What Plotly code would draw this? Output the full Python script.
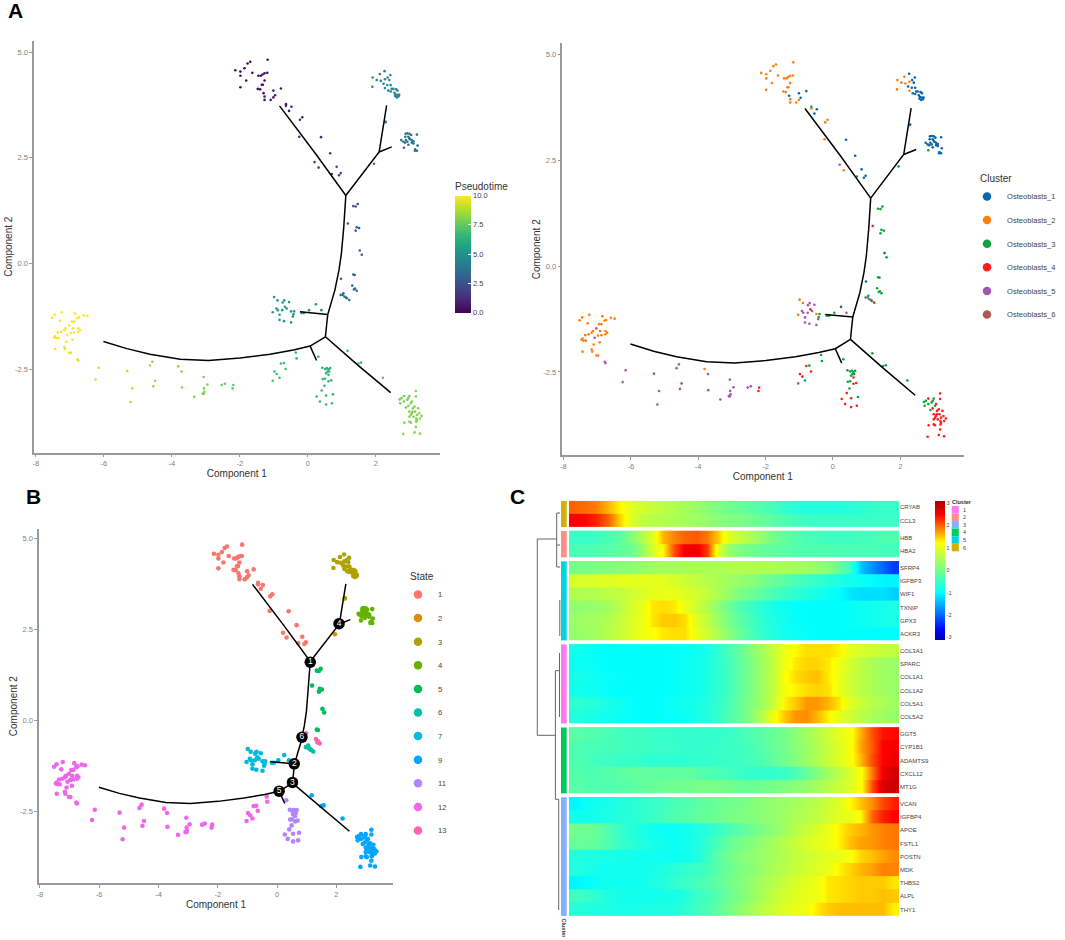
import plotly.graph_objects as go

W, H = 1065, 940

# ---------- cell tables: (component 1, component 2, cluster, pseudotime) ----------
state_1 = [(-2.13,4.57,2,0.3),(-1.98,4.54,2,0.3),(-1.98,4.44,2,0.3),(-1.86,4.62,2,0.2),(-1.77,4.73,2,0.2),(-1.69,4.77,2,0.2),
 (-1.63,4.51,2,0.3),(-1.81,4.33,2,0.3),(-1.98,4.17,2,0.3),(-1.18,4.82,2,0.4),(-1.45,4.44,2,0.4),(-1.38,4.44,2,0.4),(-1.33,4.47,2,0.4),
 (-1.27,4.50,2,0.4),(-1.19,4.51,2,0.4),(-1.27,4.33,2,0.5),(-1.35,4.23,2,0.5),(-1.32,4.23,2,0.5),(-1.47,4.13,2,0.5),(-1.40,4.12,2,0.5),
 (-1.30,4.03,1,0.6),(-1.01,4.09,1,0.6),(-0.79,4.14,1,0.6),(-1.27,3.95,2,0.6),(-1.27,3.87,2,0.6),(-1.09,3.87,2,0.7),(-1.01,3.93,2,0.7),
 (-0.96,3.98,1,0.7),(-0.64,3.77,3,0.9),(-0.64,3.73,2,0.9),(-0.48,3.71,1,0.9),(-0.55,3.61,1,0.9),(-0.16,3.46,2,1.2),(-0.23,3.40,2,1.2),
 (-0.25,3.00,2,1.4),(0.39,2.99,1,1.6),(0.66,2.61,1,1.9),(0.20,2.40,5,1.9),(0.32,2.27,2,2.0),(0.85,2.29,1,2.2),(0.97,2.14,1,2.3),
 (0.92,2.09,1,2.3),(0.71,2.12,3,2.2)]
state_2 = [(1.95,2.36,3,4.2)]
state_3 = [(1.91,4.40,2,4.6),(1.90,4.18,2,4.6),(2.03,4.34,2,4.6),(2.12,4.48,2,4.6),(2.26,4.55,1,4.7),(2.43,4.46,1,4.7),(2.35,4.40,1,4.7),
 (2.27,4.36,2,4.7),(2.15,4.32,2,4.6),(2.40,4.34,1,4.7),(2.23,4.25,1,4.6),(2.34,4.22,1,4.7),(2.44,4.22,1,4.7),(2.27,4.15,2,4.6),
 (2.37,4.09,1,4.6),(2.47,4.13,1,4.6),(2.52,4.13,1,4.6),(2.60,4.12,1,4.6),(2.44,4.07,1,4.6),(2.55,4.04,1,4.6),(2.64,4.09,1,4.6),
 (2.58,4.00,1,4.5),(2.64,3.99,1,4.5),(2.69,3.99,1,4.5),(2.57,3.96,1,4.5),(2.62,3.93,1,4.5),(2.67,3.95,1,4.5),(2.29,3.35,1,4.4),(2.28,3.34,1,4.4)]
state_4 = [(2.75,2.92,1,3.8),(2.81,2.88,1,3.8),(2.88,3.07,1,3.8),(2.93,3.08,1,3.8),(2.99,3.07,1,3.8),(2.87,3.00,1,3.8),(2.96,3.00,1,3.8),
 (3.04,3.04,1,3.8),(3.21,3.05,1,3.8),(2.86,2.86,1,3.8),(2.96,2.81,1,3.8),(2.83,2.74,3,3.7),(3.06,2.92,1,3.8),(3.11,2.89,1,3.8),
 (3.01,2.94,1,3.8),(2.93,2.88,1,3.8),(3.11,2.84,1,3.8),(3.06,2.86,1,3.8),(3.23,2.79,1,3.9),(3.16,2.70,1,3.9),(3.21,2.67,1,3.9),
 (3.15,2.67,1,3.9),(2.89,2.92,1,3.8),(2.99,2.96,1,3.8)]
state_5 = [(1.34,1.36,3,2.6),(1.41,1.35,3,2.6),(1.47,1.41,3,2.6),(1.41,0.78,3,2.8),(1.44,0.86,3,2.8),(1.51,0.84,3,2.8),(1.53,0.31,1,3.0),
 (1.59,0.21,3,3.0),(1.34,-0.26,3,3.2),(1.38,-0.27,3,3.2),(1.18,0.95,4,2.7)]
state_6 = [(0.97,-0.74,3,3.7),(1.05,-0.70,3,3.7),(1.08,-0.78,5,3.7),(1.03,-0.74,5,3.7),(1.15,-0.82,3,3.8),(1.22,-0.86,4,3.8),(1.13,-0.80,3,3.8)]
state_7 = [(-0.99,-0.79,2,5.5),(-0.89,-0.87,2,5.5),(-0.92,-1.06,5,5.5),(-1.03,-1.15,2,5.5),(-0.88,-1.10,5,5.5),(-0.83,-1.21,5,5.5),
 (-0.83,-1.33,5,5.4),(-0.70,-1.36,5,5.4),(-0.49,-1.39,5,5.4),(-0.74,-0.92,5,5.4),(-0.69,-0.87,5,5.4),(-0.55,-0.91,5,5.4),(-0.67,-1.02,4,5.4),
 (-0.62,-1.06,5,5.4),(-0.49,-1.13,2,5.3),(-0.40,-1.13,3,5.2),(-0.42,-1.20,3,5.2),(-0.44,-1.25,5,5.2),(-0.75,-1.10,5,5.4),(-0.18,-1.17,3,5.0),
 (-0.11,-1.17,3,5.0),(0.04,-1.10,3,4.9),(0.24,-0.96,1,4.8),(0.40,-1.10,5,4.7)]
state_9 = [(1.17,-2.06,3,6.6),(1.49,-2.36,3,6.9),(1.57,-2.34,3,6.9),(2.21,-2.70,3,7.4),(2.70,-3.21,3,7.9),(2.76,-3.18,3,7.9),(2.83,-3.13,4,7.9),
 (2.99,-3.13,3,7.9),(3.18,-3.01,4,8.0),(3.18,-3.14,4,8.0),(2.72,-3.30,3,8.0),(2.83,-3.26,3,8.0),(2.93,-3.22,3,8.0),(2.96,-3.18,3,8.0),
 (3.03,-3.30,3,8.0),(2.89,-3.40,3,8.0),(3.06,-3.26,4,8.0),(2.99,-3.50,4,8.1),(3.09,-3.42,4,8.1),(3.14,-3.38,4,8.1),(3.25,-3.42,4,8.1),
 (3.06,-3.54,4,8.1),(3.16,-3.50,4,8.1),(3.03,-3.58,4,8.1),(3.21,-3.58,4,8.1),(3.28,-3.54,4,8.1),(3.35,-3.60,4,8.1),(2.99,-3.62,4,8.1),
 (3.11,-3.62,4,8.1),(3.19,-3.66,4,8.1),(3.30,-3.66,4,8.1),(2.84,-3.76,4,8.1),(2.99,-3.74,4,8.1),(3.03,-3.76,4,8.1),(3.19,-3.74,4,8.1),
 (3.21,-3.70,4,8.1),(3.18,-3.86,4,8.2),(2.81,-4.03,4,8.2),(3.14,-3.99,4,8.2),(3.30,-4.02,4,8.2),(2.96,-3.36,4,8.0),(3.08,-3.50,4,8.1)]
state_11 = [(0.31,-2.20,3,6.0),(0.43,-2.46,3,6.3),(0.51,-2.49,3,6.3),(0.56,-2.47,3,6.3),(0.61,-2.50,3,6.3),(0.66,-2.47,3,6.3),(0.58,-2.55,3,6.4),
 (0.63,-2.55,3,6.4),(0.54,-2.59,3,6.4),(0.61,-2.63,4,6.5),(0.44,-2.73,3,6.5),(0.51,-2.72,3,6.5),(0.61,-2.78,4,6.5),(0.69,-2.76,4,6.5),
 (0.49,-2.89,3,6.6),(0.41,-3.00,4,6.6),(0.26,-3.14,4,6.7),(0.36,-3.26,4,6.7),(0.54,-3.33,4,6.7),(0.74,-3.09,3,6.7),(0.54,-3.12,4,6.7),(0.71,-3.30,4,6.7)]
state_12 = [(-7.52,-1.28,2,9.9),(-7.44,-1.21,2,9.9),(-7.23,-1.15,2,9.9),(-7.28,-1.35,2,9.9),(-6.84,-1.18,2,9.9),(-6.78,-1.29,2,9.9),(-6.73,-1.27,2,9.9),
 (-6.59,-1.22,2,9.9),(-6.48,-1.24,2,9.9),(-6.87,-1.37,2,9.9),(-6.94,-1.37,2,9.9),(-7.02,-1.47,5,9.9),(-6.91,-1.53,2,9.9),(-7.12,-1.53,2,9.9),
 (-7.16,-1.57,2,9.9),(-7.25,-1.61,2,9.9),(-7.35,-1.63,2,9.9),(-7.43,-1.71,2,9.9),(-7.46,-1.74,2,9.9),(-7.40,-1.76,2,9.9),(-7.33,-1.76,2,9.9),
 (-7.07,-1.69,5,9.9),(-6.97,-1.64,2,9.9),(-6.87,-1.63,2,9.9),(-6.75,-1.53,2,9.9),(-6.70,-1.57,2,9.9),(-6.75,-1.61,2,9.9),(-7.10,-1.85,2,9.8),
 (-6.92,-1.80,2,9.8),(-7.16,-1.97,2,9.8),(-7.43,-2.02,2,9.8),(-7.14,-2.02,2,9.8),(-7.02,-2.11,2,9.7),(-6.97,-2.11,2,9.7),(-6.77,-2.26,5,9.6),
 (-6.75,-2.29,5,9.6),(-6.15,-2.46,5,9.2),(-6.24,-2.74,5,9.2),(-5.31,-2.54,5,8.9),(-5.16,-2.95,5,8.8),(-5.21,-3.27,5,8.8),(-4.64,-2.41,5,8.6),
 (-4.57,-2.32,5,8.5),(-4.49,-2.77,5,8.5),(-4.54,-2.90,5,8.5),(-3.81,-2.43,2,8.2),(-3.71,-2.55,5,8.2),(-3.70,-2.93,5,8.2),(-3.34,-3.15,5,8.0),
 (-3.06,-2.68,5,7.9),(-2.95,-2.86,5,7.9),(-3.05,-2.95,5,7.9),(-3.04,-3.03,5,7.9),(-3.09,-3.07,5,7.9),(-3.06,-3.08,5,7.9),(-2.53,-2.87,5,7.7),
 (-2.44,-2.84,5,7.6),(-2.19,-2.87,4,7.5),(-2.21,-2.95,4,7.5),(-1.03,-2.77,5,7.1),(-0.98,-2.55,4,7.0),(-0.91,-2.61,4,7.0),(-0.83,-2.70,3,7.0),
 (-0.79,-2.36,4,6.9),(-0.70,-2.35,3,6.9),(-0.65,-2.49,4,6.9),(-0.35,-2.10,3,6.4),(-0.33,-2.24,3,6.4)]
state_13 = [(1.31,-0.52,3,3.4),(1.36,-0.61,3,3.4),(1.44,-0.64,3,3.4),(1.39,-0.59,3,3.4),(0.98,-0.36,1,3.3)]

states = [("1", state_1, "#F8766D"), ("2", state_2, "#DB8E00"), ("3", state_3, "#AEA200"), ("4", state_4, "#64B200"),
          ("5", state_5, "#00BD5C"), ("6", state_6, "#00C1A7"), ("7", state_7, "#00BADE"), ("9", state_9, "#00A6FF"),
          ("11", state_11, "#B385FF"), ("12", state_12, "#EF67EB"), ("13", state_13, "#FF63B6")]
cluster_names = ["Osteoblasts_1", "Osteoblasts_2", "Osteoblasts_3", "Osteoblasts_4", "Osteoblasts_5", "Osteoblasts_6"]
cluster_colors = ["#0C65A8", "#FF7F0E", "#0BA53D", "#FF1C1C", "#9F57B0", "#AD5A56"]

# ---------- trajectory tree ----------
branch_upper_left_x = [-0.83, 0.22, 1.12]
branch_upper_left_y = [3.73, 2.61, 1.61]
branch_upper_right_x = [1.12, 2.10, 2.18, 2.32]
branch_upper_right_y = [1.61, 2.64, 3.04, 3.74]
branch_right_x = [2.10, 2.47]
branch_right_y = [2.64, 2.76]
trunk_x = [1.12, 1.10, 1.06, 0.99, 0.92, 0.80, 0.71, 0.59, 0.56, 0.52]
trunk_y = [1.61, 1.35, 0.87, 0.24, -0.15, -0.62, -0.86, -1.20, -1.41, -1.73]
branch_mid_x = [0.59, 0.26, -0.23]
branch_mid_y = [-1.20, -1.17, -1.14]
branch_left_x = [0.52, 0.07, -0.42, -1.11, -1.99, -2.92, -3.75, -4.64, -5.32, -6.01]
branch_left_y = [-1.73, -1.95, -2.04, -2.14, -2.23, -2.29, -2.26, -2.14, -2.01, -1.84]
branch_small_x = [0.07, 0.26]
branch_small_y = [-1.95, -2.29]
branch_lower_x = [0.52, 1.49, 2.44]
branch_lower_y = [-1.73, -2.41, -3.05]
tree = [(branch_upper_left_x, branch_upper_left_y), (branch_upper_right_x, branch_upper_right_y), (branch_right_x, branch_right_y),
        (trunk_x, trunk_y), (branch_mid_x, branch_mid_y), (branch_left_x, branch_left_y), (branch_small_x, branch_small_y),
        (branch_lower_x, branch_lower_y)]
node_x = [1.12, 0.58, 0.52, 2.09, 0.07, 0.84]
node_y = [1.59, -1.20, -1.71, 2.65, -1.95, -0.47]
node_labels = ["1", "2", "3", "4", "5", "6"]

x_ticks = [-8, -6, -4, -2, 0, 2]
x_tick_labels = ["-8", "-6", "-4", "-2", "0", "2"]
y_ticks = [-2.5, 0.0, 2.5, 5.0]
y_tick_labels = ["-2.5", "0.0", "2.5", "5.0"]
heat_ticks = [-3, -2, -1, 0, 1, 2, 3]
heat_tick_labels = ["-3", "-2", "-1", "0", "1", "2", "3"]

# ---------- heatmap ----------
genes_6 = ["CRYAB", "CCL3"]
rows_6 = [[2.0,1.95,1.85,1.6,1.3,1.0,0.85,0.75,0.65,0.55,0.45,0.35,0.2,0.1,0,-0.1,-0.2,-0.3,-0.4,-0.55,-0.65,-0.7,-0.7,-0.7,-0.7,-0.65,-0.6,-0.55,-0.5,-0.5],
          [2.5,2.45,2.3,2.0,1.5,1.0,0.7,0.6,0.55,0.5,0.45,0.4,0.3,0.2,0.15,0.1,0,-0.1,-0.2,-0.3,-0.4,-0.45,-0.5,-0.5,-0.5,-0.5,-0.5,-0.5,-0.5,-0.5]]
genes_2 = ["HBB", "HBA2"]
rows_2 = [[-0.5,-0.5,-0.45,-0.35,-0.2,0.1,0.5,0.95,1.6,1.85,2.0,2.05,1.9,1.5,0.95,0.7,0.5,0.3,0.0,-0.15,-0.25,-0.35,-0.4,-0.45,-0.45,-0.45,-0.4,-0.4,-0.3,-0.3],
          [-0.35,-0.35,-0.3,-0.25,-0.15,-0.05,0.25,0.85,1.3,2.1,2.55,2.6,2.2,1.0,0.3,0.1,0,-0.1,-0.15,-0.2,-0.25,-0.3,-0.3,-0.3,-0.35,-0.35,-0.35,-0.35,-0.4,-0.4]]
genes_5 = ["SFRP4", "IGFBP3", "WIF1", "TXNIP", "GPX3", "ACKR3"]
rows_5 = [[0.05,0.05,0.1,0.15,0.2,0.25,0.3,0.4,0.45,0.45,0.5,0.5,0.5,0.5,0.55,0.55,0.55,0.55,0.5,0.5,0.45,0.4,0.3,0.2,-0.1,-0.5,-1.4,-1.7,-2.0,-2.3],
          [0.9,0.9,0.95,0.95,1.0,1.0,1.0,1.0,1.0,0.9,0.8,0.7,0.6,0.5,0.4,0.3,0.2,0.05,-0.1,-0.2,-0.35,-0.45,-0.55,-0.65,-0.75,-0.85,-0.9,-1.0,-1.05,-1.05],
          [0.55,0.55,0.6,0.65,0.7,0.8,0.9,1.0,1.05,1.05,0.95,0.85,0.7,0.5,0.3,0.1,-0.05,-0.2,-0.35,-0.5,-0.6,-0.7,-0.8,-0.9,-1.0,-1.15,-1.2,-1.2,-1.2,-1.3],
          [0.25,0.3,0.35,0.45,0.6,0.85,1.0,1.35,1.4,1.35,1.05,0.8,0.55,0.25,-0.05,-0.3,-0.5,-0.65,-0.8,-0.9,-0.95,-1,-1,-1,-1,-0.95,-0.9,-0.85,-0.8,-0.75],
          [0.35,0.4,0.45,0.55,0.7,0.9,1.05,1.35,1.5,1.5,1.4,0.95,0.7,0.35,0.05,-0.2,-0.4,-0.6,-0.75,-0.85,-0.95,-1,-1,-1,-1,-0.95,-0.9,-0.85,-0.8,-0.8],
          [0.3,0.35,0.45,0.6,0.75,0.9,1.1,1.2,1.35,1.4,1.4,1.05,0.8,0.5,0.2,-0.1,-0.35,-0.55,-0.7,-0.85,-0.9,-0.95,-1,-1,-1,-1,-1,-1,-1,-1]]
genes_1 = ["COL3A1", "SPARC", "COL1A1", "COL1A2", "COL5A1", "COL5A2"]
rows_1 = [[-0.85,-0.9,-0.95,-1,-1,-1,-1,-1,-1,-0.95,-0.95,-0.9,-0.8,-0.6,-0.35,-0.1,0.2,0.45,0.75,1.05,1.25,1.4,1.4,1.4,1.3,1.0,0.9,0.8,0.75,0.7],
          [-0.9,-0.9,-0.95,-1,-1,-1,-1,-1,-1,-0.95,-0.9,-0.85,-0.75,-0.6,-0.4,-0.15,0.1,0.4,0.7,1.1,1.35,1.45,1.45,1.35,1.1,0.85,0.65,0.5,0.4,0.35],
          [-0.8,-0.85,-0.9,-0.95,-0.95,-1,-1,-1,-1,-0.95,-0.9,-0.85,-0.75,-0.6,-0.4,-0.15,0.1,0.4,0.7,1.2,1.4,1.5,1.55,1.35,1.05,0.8,0.65,0.5,0.4,0.35],
          [-0.85,-0.85,-0.9,-0.95,-1,-1,-1,-1,-1,-0.95,-0.9,-0.85,-0.75,-0.6,-0.4,-0.15,0.1,0.4,0.7,1.15,1.3,1.4,1.45,1.4,1.05,0.8,0.65,0.5,0.4,0.35],
          [-0.6,-0.65,-0.7,-0.8,-0.85,-0.95,-1,-1,-0.95,-0.9,-0.85,-0.8,-0.7,-0.55,-0.35,-0.1,0.15,0.4,0.75,1.3,1.5,1.75,1.75,1.6,1.35,0.95,0.75,0.6,0.5,0.4],
          [-0.7,-0.75,-0.8,-0.85,-0.9,-0.95,-1,-1,-0.95,-0.95,-0.9,-0.8,-0.7,-0.55,-0.3,-0.1,0.2,0.6,1.15,1.5,1.75,1.8,1.6,1.3,1.0,0.8,0.65,0.5,0.4,0.3]]
genes_4 = ["GGT5", "CYP1B1", "ADAMTS9", "CXCL12", "MT1G"]
rows_4 = [[-0.2,-0.25,-0.3,-0.35,-0.4,-0.45,-0.45,-0.5,-0.5,-0.55,-0.55,-0.55,-0.55,-0.55,-0.5,-0.4,-0.3,-0.2,-0.1,0.05,0.2,0.4,0.6,0.8,1.0,1.15,1.65,2.1,2.4,2.45],
          [-0.3,-0.35,-0.35,-0.4,-0.4,-0.45,-0.45,-0.5,-0.5,-0.5,-0.55,-0.55,-0.55,-0.5,-0.5,-0.45,-0.35,-0.25,-0.1,0,0.2,0.35,0.55,0.75,0.95,1.15,1.7,2.05,2.5,2.55],
          [-0.3,-0.35,-0.45,-0.45,-0.5,-0.5,-0.55,-0.6,-0.6,-0.6,-0.6,-0.55,-0.55,-0.5,-0.5,-0.45,-0.4,-0.3,-0.15,0,0.15,0.35,0.55,0.75,0.95,1.15,1.6,2.1,2.5,2.6],
          [-0.25,-0.3,-0.3,-0.25,-0.2,-0.15,-0.15,-0.15,-0.15,-0.15,-0.15,-0.2,-0.3,-0.35,-0.4,-0.5,-0.55,-0.55,-0.55,-0.5,-0.35,-0.1,0.15,0.4,0.65,0.9,1.2,1.9,2.6,2.8],
          [-0.2,-0.25,-0.3,-0.3,-0.25,-0.2,-0.15,-0.1,-0.05,0,0,0.05,0.05,0.05,0.0,-0.05,-0.05,0,0.05,0.1,0.2,0.3,0.45,0.6,0.75,0.95,1.2,2.1,2.75,2.85]]
genes_3 = ["VCAN", "IGFBP4", "APOE", "FSTL1", "POSTN", "MDK", "THBS2", "ALPL", "THY1"]
rows_3 = [[-1.05,-0.9,-0.85,-0.8,-0.7,-0.65,-0.6,-0.5,-0.45,-0.35,-0.3,-0.2,-0.15,-0.05,0,0.05,0.15,0.2,0.3,0.35,0.45,0.55,0.65,0.8,0.95,1.25,1.55,1.8,2.15,2.35],
          [-0.85,-0.85,-0.8,-0.75,-0.7,-0.65,-0.55,-0.5,-0.4,-0.3,-0.25,-0.15,-0.1,-0.05,0.05,0.1,0.15,0.25,0.3,0.4,0.5,0.6,0.7,0.85,1.0,1.05,1.3,2.0,2.35,2.5],
          [0,-0.05,-0.1,-0.3,-0.5,-0.65,-0.75,-0.85,-0.9,-0.9,-0.85,-0.75,-0.65,-0.5,-0.35,-0.2,-0.05,0.1,0.25,0.4,0.6,0.75,0.9,1.05,1.3,1.5,1.6,1.75,1.85,1.9],
          [-0.1,-0.1,-0.15,-0.3,-0.5,-0.6,-0.7,-0.8,-0.85,-0.9,-0.85,-0.75,-0.55,-0.35,-0.1,0.05,0.15,0.3,0.45,0.6,0.75,0.9,1.0,1.1,1.3,1.55,1.7,1.75,1.85,1.9],
          [-0.7,-0.75,-0.75,-0.8,-0.8,-0.85,-0.85,-0.85,-0.9,-0.9,-0.85,-0.75,-0.5,-0.2,0,0.15,0.25,0.35,0.45,0.55,0.7,0.8,0.9,1.0,1.05,1.2,1.45,1.55,1.7,1.8],
          [-0.7,-0.75,-0.85,-0.85,-0.85,-0.85,-0.85,-0.8,-0.75,-0.65,-0.55,-0.5,-0.4,-0.2,-0.05,0.1,0.2,0.35,0.5,0.6,0.75,0.85,0.95,1.05,1.3,1.45,1.6,1.7,1.85,1.85],
          [-1.05,-1.0,-0.9,-0.85,-0.85,-0.85,-0.85,-0.75,-0.7,-0.55,-0.5,-0.4,-0.3,-0.15,0,0.15,0.3,0.45,0.6,0.75,0.9,1.0,1.1,1.35,1.4,1.45,1.5,1.5,1.5,1.35],
          [-0.45,-0.5,-0.6,-0.75,-0.8,-0.85,-0.85,-0.85,-0.8,-0.8,-0.7,-0.5,-0.4,-0.25,-0.05,0.1,0.3,0.5,0.7,0.85,0.95,1.05,1.1,1.35,1.4,1.45,1.5,1.5,1.55,1.5],
          [-0.65,-0.7,-0.75,-0.75,-0.8,-0.8,-0.8,-0.75,-0.75,-0.7,-0.6,-0.45,-0.35,-0.15,0.05,0.25,0.45,0.65,0.8,0.95,1.05,1.1,1.35,1.5,1.55,1.55,1.55,1.55,1.55,1.3]]
heat_blocks = [(6, genes_6, rows_6), (2, genes_2, rows_2), (5, genes_5, rows_5), (1, genes_1, rows_1), (4, genes_4, rows_4), (3, genes_3, rows_3)]
heat_cluster_ids = [1, 2, 3, 4, 5, 6]
heat_cluster_colors = {1: "#FF7AF2", 2: "#FF8F85", 3: "#82B2FF", 4: "#00CC5C", 5: "#00D4E0", 6: "#D6B000"}
heat_scale = [[0, "#0000A8"], [0.07, "#0000FF"], [0.34, "#00FFFF"], [0.70, "#FFFF00"], [0.90, "#FF0000"], [1, "#A80000"]]

# ---------- pixel helpers for layout ----------
def fx(p): return p / W
def fy(p): return 1 - p / H

TEXT = "#333333"
FONT = "Liberation Sans"
GREY = "#9A9A9A"
fig = go.Figure()
fig.update_layout(template="none")

def axes(n, l, r, t, b, xr, yr):
    common = dict(showline=True, linecolor=GREY, linewidth=1.5, ticks="outside", ticklen=2.5, tickwidth=1, tickcolor=GREY,
                  tickfont=dict(size=7.5, color="#7F7F7F", family=FONT), showgrid=False, zeroline=False, layer="below traces", automargin=False)
    s = "" if n == 1 else str(n)
    fig.update_layout(**{
        "xaxis" + s: dict(domain=[fx(l), fx(r)], range=xr, anchor="y" + s, tickvals=x_ticks, ticktext=x_tick_labels,
                          title=dict(text="Component 1", font=dict(size=10, color=TEXT, family=FONT), standoff=2), **common),
        "yaxis" + s: dict(domain=[fy(b), fy(t)], range=yr, anchor="x" + s, tickvals=y_ticks, ticktext=y_tick_labels,
                          title=dict(text="Component 2", font=dict(size=10, color=TEXT, family=FONT), standoff=1), **common)})

axes(1, 33.7, 440, 40.7, 452.7, [-8.06, 3.89], [-4.47, 5.27])
axes(2, 562, 963.7, 43.3, 455.3, [-8.04, 3.88], [-4.47, 5.27])
axes(3, 38.7, 393.3, 529, 883.3, [-8.04, 3.92], [-4.48, 5.25])

def draw_tree(n):
    s = "" if n == 1 else str(n)
    for tx, ty in tree:
        fig.add_trace(go.Scatter(x=tx, y=ty, mode="lines", line=dict(color="black", width=1.5), xaxis="x" + s, yaxis="y" + s,
                                 showlegend=False, hoverinfo="skip"))

all_cells = [c for _, cells, _ in states for c in cells]

# panel A left: pseudotime
fig.add_trace(go.Scatter(x=[c[0] for c in all_cells], y=[c[1] for c in all_cells], mode="markers", xaxis="x", yaxis="y",
                         marker=dict(size=2.6, color=[c[3] for c in all_cells], coloraxis="coloraxis"), showlegend=False))
draw_tree(1)

# panel A right: clusters
for i, (name, col) in enumerate(zip(cluster_names, cluster_colors)):
    cells = [c for c in all_cells if c[2] == i + 1]
    fig.add_trace(go.Scatter(x=[c[0] for c in cells], y=[c[1] for c in cells], mode="markers", xaxis="x2", yaxis="y2",
                             marker=dict(size=2.6, color=col), showlegend=False))
    fig.add_trace(go.Scatter(x=[None], y=[None], mode="markers", xaxis="x2", yaxis="y2", name=name, legend="legend",
                             legendgroup=name, marker=dict(size=8.5, color=col)))
draw_tree(2)

# panel B: states
for name, cells, col in states:
    fig.add_trace(go.Scatter(x=[c[0] for c in cells], y=[c[1] for c in cells], mode="markers", xaxis="x3", yaxis="y3",
                             marker=dict(size=4.6, color=col), showlegend=False))
    fig.add_trace(go.Scatter(x=[None], y=[None], mode="markers", xaxis="x3", yaxis="y3", name=name, legend="legend2",
                             legendgroup="s" + name, marker=dict(size=8.5, color=col)))
draw_tree(3)
fig.add_trace(go.Scatter(x=node_x, y=node_y, mode="markers+text", text=node_labels, textposition="middle center",
                         textfont=dict(color="white", size=8.5, family=FONT), marker=dict(size=11.5, color="black"),
                         xaxis="x3", yaxis="y3", showlegend=False))

# panel C: each gene is its own one-band heatmap, blocks separated by a gap of 0.3 row
row_pos, gene_labels, offset = [], [], 0.0
shape_list = []
strip_spans = []
for cid, genes, rows in heat_blocks:
    ys = [offset + k for k in range(len(genes))]
    for k, (yc, row) in enumerate(zip(ys, rows)):
        # a slight overlap downward hides the seam between neighbouring bands
        bottom = 0.30 if k < len(genes) - 1 else 0.25
        fig.add_trace(go.Heatmap(z=[row, row], y=[yc - 0.25, yc + bottom], x=list(range(len(row))), coloraxis="coloraxis2",
                                 xaxis="x4", yaxis="y4", zsmooth="best", hoverinfo="skip"))
    row_pos += ys
    gene_labels += genes
    strip_spans.append((cid, ys[0] - 0.5, ys[-1] + 0.5))
    offset = ys[-1] + 1.3

HL, HR, HT, HB = 569, 899, 500.7, 916
fig.update_layout(
    xaxis4=dict(domain=[fx(HL), fx(HR)], range=[-0.5, 29.5], anchor="y4", visible=False, automargin=False),
    yaxis4=dict(domain=[fy(HB), fy(HT)], range=[row_pos[-1] + 0.5, -0.5], anchor="x4", side="right", tickvals=row_pos, ticktext=gene_labels, automargin=False,
                tickfont=dict(size=6, color="#444444", family=FONT), ticks="", showgrid=False, zeroline=False, showline=False, ticklen=0),
)

# annotation strip beside the heatmap (same row scale as the heatmap)
for cid, y0, y1 in strip_spans:
    shape_list.append(dict(type="rect", xref="paper", yref="y4", x0=fx(561), x1=fx(566.7), y0=y0, y1=y1,
                           fillcolor=heat_cluster_colors[cid], line_width=0))

# dendrogram
dendro = [(537.3, 539, 537.3, 735.3), (537.3, 539, 556.7, 539), (537.3, 735.3, 555.5, 735.3),
          (556.7, 513, 556.7, 567), (556.7, 513, 560, 513), (556.7, 545, 560, 545), (556.7, 567, 560, 567),
          (555.4, 670.7, 555.4, 799.3), (555.4, 670.7, 559.5, 670.7), (555.4, 799.3, 558.7, 799.3),
          (559.5, 653, 559.5, 717), (558.7, 799.3, 558.7, 910), (559.8, 600, 559.8, 636)]
for x0, y0, x1, y1 in dendro:
    shape_list.append(dict(type="line", xref="paper", yref="paper", x0=fx(x0), x1=fx(x1), y0=fy(y0), y1=fy(y1),
                           line=dict(color="#666666", width=1)))

# heatmap cluster key
annots = []
for i, cid in enumerate(heat_cluster_ids):
    top = 506 + i * 7.55
    shape_list.append(dict(type="rect", xref="paper", yref="paper", x0=fx(951.7), x1=fx(958.8), y0=fy(top), y1=fy(top + 7.55),
                           fillcolor=heat_cluster_colors[cid], line_width=0))
    annots.append(dict(text=str(cid), xref="paper", yref="paper", x=fx(961), y=fy(top + 3.8), showarrow=False, xanchor="left", yanchor="middle",
                       font=dict(size=5.5, color="#444444", family=FONT)))
annots.append(dict(text="<b>Cluster</b>", xref="paper", yref="paper", x=fx(949.5), y=fy(502.2), showarrow=False, xanchor="left", yanchor="middle",
                   font=dict(size=5.5, color="#333333", family=FONT)))
annots.append(dict(text="<b>Cluster</b>", xref="paper", yref="paper", x=fx(563.5), y=fy(928), showarrow=False, textangle=90,
                   xanchor="center", yanchor="middle", font=dict(size=5.5, color="#333333", family=FONT)))
for letter, px, py in [("A", 15, 11), ("B", 33, 496), ("C", 517, 496)]:
    annots.append(dict(text="<b>%s</b>" % letter, xref="paper", yref="paper", x=fx(px), y=fy(py), showarrow=False,
                       xanchor="center", yanchor="middle", font=dict(size=21, color="black", family=FONT)))

fig.update_layout(
    width=W, height=H, autosize=False, margin=dict(l=0, r=0, t=0, b=0), paper_bgcolor="white", plot_bgcolor="white",
    font=dict(family=FONT, color=TEXT), shapes=shape_list, annotations=annots, hovermode=False,
    coloraxis=dict(colorscale="Viridis", cmin=0, cmax=10, colorbar=dict(
        x=fx(455), xanchor="left", y=fy(179.5), yanchor="top", len=132.5, lenmode="pixels", thickness=16, thicknessmode="pixels",
        xpad=0, ypad=0, outlinewidth=0, tickvals=[0, 2.5, 5, 7.5, 10], ticktext=["0.0", "2.5", "5.0", "7.5", "10.0"],
        ticks="inside", ticklen=3, tickcolor="white", tickfont=dict(size=7.5, color="#444444", family=FONT),
        title=dict(text="Pseudotime", side="top", font=dict(size=10, color=TEXT, family=FONT)))),
    coloraxis2=dict(colorscale=heat_scale, cmin=-3.1, cmax=3.1, colorbar=dict(
        x=fx(934.5), xanchor="left", y=fy(500.7), yanchor="top", len=139.3, lenmode="pixels", thickness=9.5, thicknessmode="pixels",
        xpad=0, ypad=0, outlinewidth=0, tickvals=heat_ticks, ticktext=heat_tick_labels, ticks="",
        tickfont=dict(size=5.5, color="#444444", family=FONT))),
    legend=dict(x=fx(978), xanchor="left", y=fy(169), yanchor="top", itemsizing="trace", tracegroupgap=4.6, indentation=-11, bgcolor="rgba(0,0,0,0)",
                font=dict(size=7.6, color="#444444", family=FONT), title=dict(text="Cluster", font=dict(size=10, color=TEXT, family=FONT))),
    legend2=dict(x=fx(408), xanchor="left", y=fy(567), yanchor="top", itemsizing="trace", tracegroupgap=4.6, indentation=-10, bgcolor="rgba(0,0,0,0)",
                 font=dict(size=7.6, color="#444444", family=FONT), title=dict(text="State", font=dict(size=10, color=TEXT, family=FONT))),
)

fig.write_html("out.html", config={"displayModeBar": False}, post_script="document.body.style.margin='0';")
